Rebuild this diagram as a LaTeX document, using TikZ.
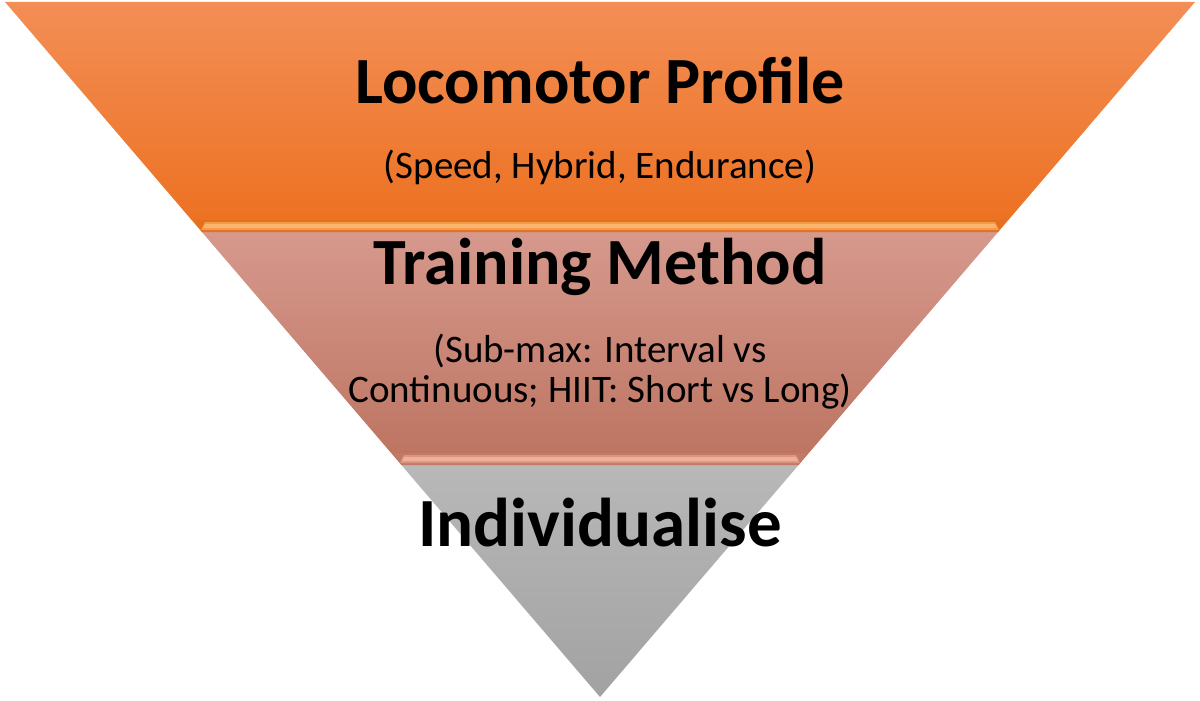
\documentclass[tikz,border=0pt]{standalone}
\usepackage{fontspec}
\setmainfont{Carlito}
\tikzset{
  title/.style={anchor=base, inner sep=0pt, text=black, font=\bfseries\fontsize{66}{70}\selectfont},
  subtitle/.style={anchor=base, inner sep=0pt, text=black, font=\fontsize{39}{40}\selectfont},
}
\definecolor{orTop}{HTML}{F38E55}
\definecolor{orBot}{HTML}{EC7020}
\definecolor{saTop}{HTML}{D6998D}
\definecolor{saBot}{HTML}{BC7360}
\definecolor{grTop}{HTML}{B8B8B8}
\definecolor{grBot}{HTML}{A2A2A2}
\definecolor{orHi}{HTML}{FBB46E}
\definecolor{orMid}{HTML}{F59A48}
\definecolor{orEdge}{HTML}{E4701E}
\definecolor{saHi}{HTML}{F0B098}
\definecolor{saMid}{HTML}{DA9680}
\definecolor{saEdge}{HTML}{C27A66}
\begin{document}
\begin{tikzpicture}[x=1pt,y=-1pt]
\useasboundingbox (0,0) rectangle (1200,701);
% bands
\shade[top color=orTop, bottom color=orBot] (5,2) -- (1195,2) -- (998.1,232) -- (201.9,232) -- cycle;
\shade[top color=saTop, bottom color=saBot] (201.9,232) -- (998.1,232) -- (798.6,465) -- (401.4,465) -- cycle;
\shade[top color=grTop, bottom color=grBot] (401.4,465) -- (798.6,465) -- (600,697) -- cycle;
% bevel strips
\fill[orEdge] (194,220) -- (1006,220) -- (998.1,232) -- (201.9,232) -- cycle;
\fill[orMid] (205,222) -- (995,222) -- (999,230) -- (201,230) -- cycle;
\fill[orHi] (205,224) -- (995,224) -- (997,228) -- (203,228) -- cycle;
\fill[saEdge] (393,453) -- (807,453) -- (798.6,465) -- (401.4,465) -- cycle;
\fill[saMid] (404,455) -- (796,455) -- (800,463) -- (400,463) -- cycle;
\fill[saHi] (404,457) -- (796,457) -- (798,461) -- (402,461) -- cycle;
% texts
\node[title] (t1) at (600,103) {Locomotor Profile};
\node[subtitle] (s1) at (600,178) {(Speed, Hybrid, Endurance)};
\node[title] (t2) at (600,284) {Training Method};
\node[subtitle] (s2a) at (600,362) {(Sub-max: Interval vs};
\node[subtitle] (s2b) at (600,402) {Continuous; HIIT: Short vs Long)};
\node[title, font=\bfseries\fontsize{69}{70}\selectfont] (t3) at (600,546) {Individualise};
\end{tikzpicture}
\end{document}
